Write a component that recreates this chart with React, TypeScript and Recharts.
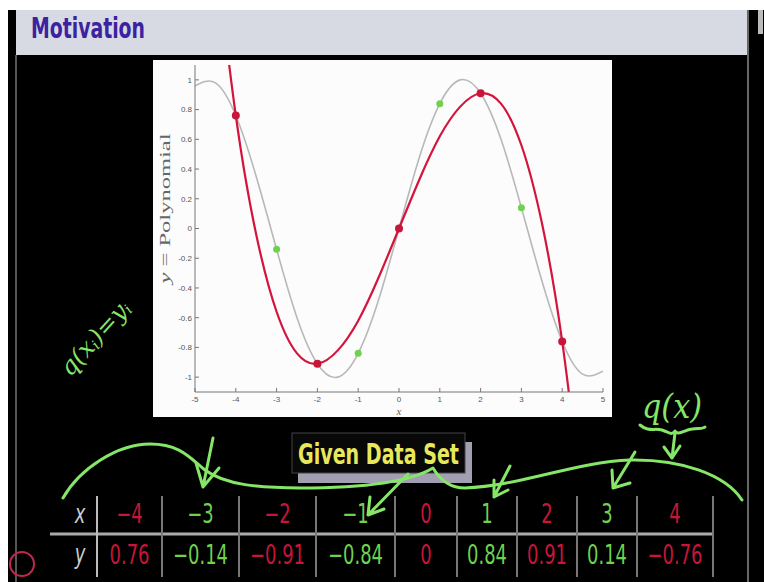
import { ComposedChart, Line, Scatter, XAxis, YAxis } from "recharts";

// the given data set (dots + table)
const DATA_X = [-4, -3, -2, -1, 0, 1, 2, 3, 4];
const DATA_Y = [0.76, -0.14, -0.91, -0.84, 0, 0.84, 0.91, 0.14, -0.76];

// grey curve, every 0.5
const SINE_X = [-5, -4.5, -4, -3.5, -3, -2.5, -2, -1.5, -1, -0.5, 0, 0.5, 1, 1.5, 2, 2.5, 3, 3.5, 4, 4.5, 5];
const SINE_Y = [0.96, 0.98, 0.76, 0.35, -0.14, -0.6, -0.91, -1.0, -0.84, -0.48, 0, 0.48, 0.84, 1.0, 0.91, 0.6, 0.14, -0.35, -0.76, -0.98, -0.96];

// red polynomial through the red points
const POLY_X = [-4.5, -4, -3.5, -3, -2.5, -2, -1.5, -1, -0.5, 0, 0.5, 1, 1.5, 2, 2.5, 3, 3.5, 4, 4.5];
const POLY_Y = [1.88, 0.76, -0.04, -0.56, -0.84, -0.91, -0.82, -0.62, -0.33, 0, 0.33, 0.62, 0.82, 0.91, 0.84, 0.56, 0.04, -0.76, -1.88];

const X_TICKS = [-5, -4, -3, -2, -1, 0, 1, 2, 3, 4, 5];
const Y_TICKS = [-1, -0.8, -0.6, -0.4, -0.2, 0, 0.2, 0.4, 0.6, 0.8, 1];

// table column separators (page px)
const COL_EDGES = [97, 162, 239, 316, 395, 457, 517, 577, 637, 713];

const RED = "#c8153a";
const GREEN = "#6fd24f";
const INK = "#86e668";
const NARROW = '"Liberation Sans Narrow", "DejaVu Sans Condensed", sans-serif';

const fmt = (v: number) => (v < 0 ? "\u2212" : "") + String(Math.abs(v));
const isRed = (x: number) => x % 2 === 0;

const YLabel = (p: any) => {
  const vb = p.viewBox;
  const cx = vb.x + 12;
  const cy = vb.y + vb.height / 2 - 20;
  return (
    <text
      x={cx}
      y={cy}
      transform={`rotate(-90 ${cx} ${cy})`}
      textAnchor="middle"
      dominantBaseline="central"
      fontFamily='"Liberation Serif", serif'
      fontSize={15}
      fill="#666"
      textLength={150}
      lengthAdjust="spacingAndGlyphs"
    >
      <tspan fontStyle="italic">y</tspan> = Polynomial
    </text>
  );
};

// condensed cell text, centred on cx
const Cell = ({ cx, y, fill, italic, children }: any) => (
  <g transform={`translate(${cx} 0) scale(0.74 1)`}>
    <text x={0} y={y} textAnchor="middle" fontFamily={NARROW} fontSize={27} fontStyle={italic ? "italic" : "normal"} fill={fill}>
      {children}
    </text>
  </g>
);

export default function App() {
  const sine = SINE_X.map((x, i) => ({ x, y: SINE_Y[i] }));
  const poly = POLY_X.map((x, i) => ({ x, y: POLY_Y[i] }));
  const given = DATA_X.map((x, i) => ({ x, y: DATA_Y[i] }));
  const redPts = given.filter((d) => isRed(d.x));
  const greenPts = given.filter((d) => !isRed(d.x));

  const tickStyle = { fill: "#555", fontSize: 8, fontFamily: '"Liberation Sans", sans-serif' };

  return (
    <div style={{ position: "absolute", left: 0, top: 0, width: 764, height: 582, background: "#fff", overflow: "hidden" }}>
      <div style={{ position: "absolute", left: 8, top: 10, width: 756, height: 572, background: "#000" }} />
      <div style={{ position: "absolute", left: 16, top: 10, width: 731, height: 45, background: "#d7dae3" }} />
      <div style={{ position: "absolute", left: 758, top: 10, width: 5, height: 24, background: "#bbb" }} />

      <div style={{ position: "absolute", left: 153, top: 60, width: 459, height: 357, background: "#fcfcfc" }}>
        <ComposedChart width={459} height={357} margin={{ top: 5, right: 9, bottom: 3, left: 0 }}>
          <XAxis
            dataKey="x"
            type="number"
            domain={[-5, 5]}
            ticks={X_TICKS}
            allowDataOverflow
            height={22}
            stroke="#777"
            tickSize={-4}
            tickMargin={8}
            tick={tickStyle}
            label={{ value: "x", position: "insideBottom", offset: -1, fontStyle: "italic", fontFamily: '"Liberation Serif", serif', fontSize: 11, fill: "#666" }}
          />
          <XAxis xAxisId="top" orientation="top" type="number" domain={[-5, 5]} ticks={X_TICKS} allowDataOverflow height={0} stroke="#777" tick={false} tickSize={-4} />
          <YAxis
            dataKey="y"
            type="number"
            domain={[-1.1, 1.1]}
            ticks={Y_TICKS}
            allowDataOverflow
            width={42}
            stroke="#777"
            tickSize={-4}
            tickMargin={7}
            tick={tickStyle}
            label={{ content: YLabel }}
          />
          <YAxis yAxisId="right" orientation="right" type="number" domain={[-1.1, 1.1]} ticks={Y_TICKS} allowDataOverflow width={0} stroke="#777" tick={false} tickSize={-4} />
          <Line data={sine} dataKey="y" type="natural" stroke="#b8b8b8" strokeWidth={1.6} dot={false} isAnimationActive={false} />
          <Line data={poly} dataKey="y" type="natural" stroke="#d4143c" strokeWidth={2.2} dot={false} isAnimationActive={false} />
          <Scatter data={redPts} fill={RED} isAnimationActive={false} shape={(p: any) => <circle cx={p.cx} cy={p.cy} r={4} fill={RED} />} />
          <Scatter data={greenPts} fill={GREEN} isAnimationActive={false} shape={(p: any) => <circle cx={p.cx} cy={p.cy} r={3.5} fill={GREEN} />} />
        </ComposedChart>
      </div>

      <svg width={764} height={582} style={{ position: "absolute", left: 0, top: 0, pointerEvents: "none" }}>
        {/* slide frame */}
        <line x1={16} y1={55} x2={16} y2={582} stroke="#555" strokeWidth={2} />
        <line x1={748} y1={10} x2={748} y2={582} stroke="#666" strokeWidth={2} />
        <text x={31} y={38} fontFamily={NARROW} fontWeight="bold" fontSize={29} fill="#3c22a0" textLength={114} lengthAdjust="spacingAndGlyphs">
          Motivation
        </text>
        <circle cx={22} cy={564} r={12} fill="none" stroke="#c0284e" strokeWidth={2} />

        {/* Given Data Set box */}
        <rect x={298} y={442} width={174} height={41} fill="#a39fb3" />
        <rect x={292} y={433} width={173} height={40} fill="#080808" stroke="#444" strokeWidth={1} />
        <text x={298} y={464} fontFamily={NARROW} fontWeight="bold" fontSize={29} fill="#e8e85c" textLength={161} lengthAdjust="spacingAndGlyphs">
          Given Data Set
        </text>

        {/* table */}
        <line x1={50} y1={534} x2={713} y2={534} stroke="#aaa" strokeWidth={3} />
        {COL_EDGES.map((e, i) => (
          <line key={e} x1={e} y1={496} x2={e} y2={577} stroke={i === 0 ? "#bbb" : "#777"} strokeWidth={2} />
        ))}
        <Cell cx={80} y={523} fill="#ccc" italic>x</Cell>
        <Cell cx={80} y={563} fill="#ccc" italic>y</Cell>
        {DATA_X.map((x, i) => {
          const cx = (COL_EDGES[i] + COL_EDGES[i + 1]) / 2;
          const c = isRed(x) ? RED : GREEN;
          return (
            <g key={x}>
              <Cell cx={cx} y={523} fill={c}>{fmt(x)}</Cell>
              <Cell cx={cx} y={564} fill={c}>{fmt(DATA_Y[i])}</Cell>
            </g>
          );
        })}

        {/* hand annotations */}
        <g fill="none" stroke={INK} strokeWidth={3} strokeLinecap="round" strokeLinejoin="round">
          <path d="M63 498 C80 468 118 444 150 444 C180 444 190 458 205 470 C225 485 260 488 300 488 C360 488 410 482 433 468 C440 480 450 488 465 488 C520 486 575 462 630 460 C680 459 725 474 742 500" />
          <path d="M213 438 L203 487 L219 468 M196 463 L203 487" />
          <path d="M408 474 L368 515 L384 509 M370 497 L368 515" />
          <path d="M510 466 L494 497 L508 490 M494 480 L494 497" />
          <path d="M635 452 L613 488 L630 483 M612 470 L613 488" />
          <path d="M640 425 C648 432 655 428 662 430 C668 432 672 436 675 431 C678 436 684 430 692 429 C698 428 703 429 705 427" />
          <path d="M675 433 L672 458 M664 447 L672 458 L680 446" />
        </g>
        <text x={642} y={418} fontFamily='"DejaVu Serif", serif' fontStyle="italic" fontSize={34} fill={INK} textLength={60} lengthAdjust="spacingAndGlyphs">
          q(x)
        </text>
        <text
          x={95}
          y={338}
          transform="rotate(-48 95 338)"
          textAnchor="middle"
          dominantBaseline="central"
          fontFamily='"DejaVu Serif", serif'
          fontStyle="italic"
          fontSize={24}
          fill={INK}
          textLength={92}
          lengthAdjust="spacingAndGlyphs"
        >
          q(x<tspan fontSize={14} dy={5}>i</tspan>
          <tspan dy={-5}>)=y</tspan>
          <tspan fontSize={14} dy={5}>i</tspan>
        </text>
      </svg>
    </div>
  );
}
